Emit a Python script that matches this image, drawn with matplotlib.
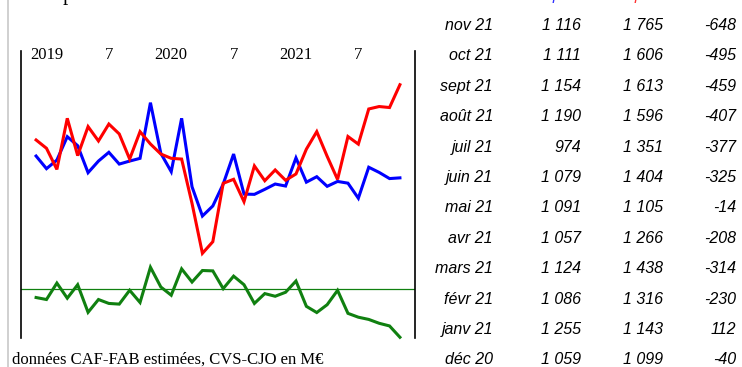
import matplotlib
matplotlib.use("Agg")
import matplotlib.pyplot as plt
from matplotlib.lines import Line2D
import matplotlib.transforms as mtransforms

# Monthly series, Dec 2018 .. Nov 2021 (M€, seasonally adjusted)
months = ["déc 18",
          "janv 19", "févr 19", "mars 19", "avr 19", "mai 19", "juin 19",
          "juil 19", "août 19", "sept 19", "oct 19", "nov 19", "déc 19",
          "janv 20", "févr 20", "mars 20", "avr 20", "mai 20", "juin 20",
          "juil 20", "août 20", "sept 20", "oct 20", "nov 20", "déc 20",
          "janv 21", "févr 21", "mars 21", "avr 21", "mai 21", "juin 21",
          "juil 21", "août 21", "sept 21", "oct 21", "nov 21"]

exports = [1268, 1180, 1240, 1403, 1340, 1152, 1233, 1294, 1212, 1233, 1252, 1640,
           1287, 1159, 1531, 1054, 850, 920, 1073, 1282, 1003, 1001, 1036, 1073,
           1059, 1255, 1086, 1124, 1057, 1091, 1079, 974, 1190, 1154, 1111, 1116]

imports = [1380, 1322, 1175, 1531, 1271, 1473, 1373, 1491, 1422, 1247, 1438, 1352,
           1282, 1252, 1247, 938, 590, 671, 1078, 1106, 950, 1199, 1096, 1171,
           1099, 1143, 1316, 1438, 1266, 1105, 1404, 1351, 1596, 1613, 1606, 1765]

balance = [-111, -138, 84, -120, 62, -311, -138, -191, -200, -13, -178, 298,
           31, -80, 276, 98, 254, 249, 9, 178, 62, -191, -58, -94,
           -40, 112, -230, -314, -208, -14, -325, -377, -407, -459, -495, -648]

# Axis labels along the top: every six months
tick_idx = [1, 7, 13, 19, 25, 31]
tick_labels = ["2019", "7", "2020", "7", "2021", "7"]

headers = ["export", "import", "solde"]

BLUE, RED, GREEN = "#0000ff", "#ff0000", "#108010"
SERIF = "Liberation Serif"
SANS = "Liberation Sans"

W, H = 742, 367
fig = plt.figure(figsize=(W / 100, H / 100), dpi=100)


def fx(px):
    return px / W


def fy(py):
    return 1 - py / H


# page border line on the left
fig.add_artist(Line2D([fx(8), fx(8)], [0, 1], color="#c4c4c4", lw=1.1,
                      transform=fig.transFigure))

# main chart
x0, x1, ytop, ybot = 20.5, 415.0, 51.0, 338.0
ax = fig.add_axes([fx(x0), fy(ybot), fx(x1 - x0), (ybot - ytop) / H])
ax.set_xlim(-1.5, 36.45)
ax.set_ylim(0, 2000)
for s in ("top", "bottom"):
    ax.spines[s].set_visible(False)
for s in ("left", "right"):
    ax.spines[s].set_linewidth(1.2)
    ax.spines[s].set_color("black")
ax.set_xticks([])
ax.set_yticks([])
ax.patch.set_alpha(0)

ax2 = ax.twinx()
ax2.set_ylim(-658, 3220)
ax2.set_yticks([])
for s in ax2.spines.values():
    s.set_visible(False)

xs = list(range(len(months)))
ax2.axhline(0, color=GREEN, lw=0.9, zorder=1)
ax2.plot(xs, balance, color=GREEN, lw=2.2, solid_joinstyle="miter",
         clip_on=False, zorder=2)
ax.plot(xs, exports, color=BLUE, lw=2.2, solid_joinstyle="miter", zorder=3)
ax.plot(xs, imports, color=RED, lw=2.2, solid_joinstyle="miter", zorder=4)
ax.set_zorder(ax2.get_zorder() + 1)

trans = mtransforms.blended_transform_factory(ax.transData, ax.transAxes)
for i, lab in zip(tick_idx, tick_labels):
    ax.text(i, (ybot - 55) / (ybot - ytop), lab, transform=trans,
            ha="center", va="center", family=SERIF, fontsize=12)

# title line (cut off at the top edge)
fig.text(fx(40), fy(-0.3), "Importations", family=SERIF, fontsize=15,
         ha="left", va="baseline")

# source note
fig.text(fx(12), fy(363.3), "données CAF-FAB estimées, CVS-CJO en M€",
         family=SERIF, fontsize=12, ha="left", va="baseline")

# table of the last twelve months
col_right = [493, 581, 663, 736]
for h, xr, c in zip(headers, col_right[1:], (BLUE, RED, GREEN)):
    fig.text(fx(xr), fy(-0.4), h, family=SANS, style="italic", fontsize=11.5,
             color=c, ha="right", va="baseline", alpha=0.8)


def fmt(v):
    return f"{v:,}".replace(",", " ")


n = len(months)
for k in range(12):
    i = n - 1 - k
    yb = fy(30 + 30.4 * k)
    cells = [months[i], fmt(exports[i]), fmt(imports[i]), fmt(balance[i])]
    for txt, xr in zip(cells, col_right):
        fig.text(fx(xr), yb, txt, family=SANS, style="italic", fontsize=11.5,
                 color="black", ha="right", va="baseline")

fig.savefig("out.png", dpi=100)
